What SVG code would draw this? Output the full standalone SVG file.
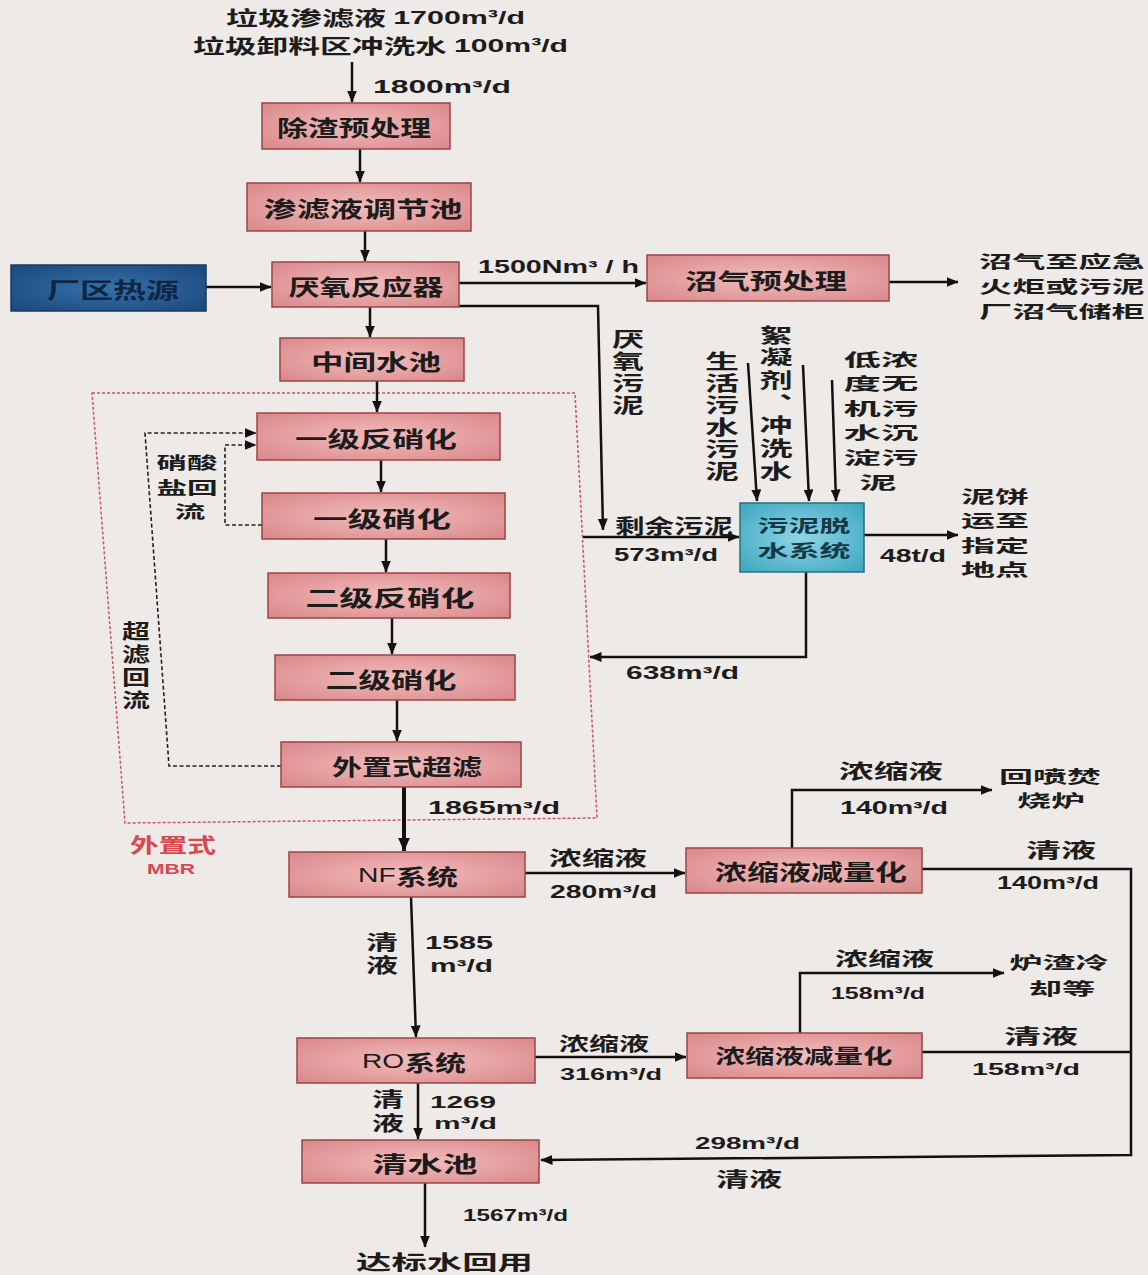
<svg xmlns="http://www.w3.org/2000/svg" width="1148" height="1275" viewBox="0 0 1148 1275">
<style>
.box{fill:url(#pink);stroke:#9a4646;stroke-width:1.5}
.t{font-family:"Noto Sans CJK SC","Noto Sans",sans-serif;font-weight:700;font-size:22px;fill:#1c1c1c;dominant-baseline:central}
.v{font-size:19px}
.l{font-size:20px}
.k{font-size:17px}
.m{text-anchor:middle}
.vt{writing-mode:vertical-rl;text-anchor:start}
.n{font-family:"Liberation Sans",Arial,sans-serif;font-weight:700;font-size:18px;fill:#1c1c1c;dominant-baseline:central}
.s{font-size:17px}
.c{fill:none;stroke:#111;stroke-width:2.5}
.d{fill:none;stroke:#222;stroke-width:1.6;stroke-dasharray:4 2.5}
.red{fill:#d9474f}
tspan{dominant-baseline:central}
</style>
<defs>
<radialGradient id="pink" cx="0.5" cy="0.5" r="0.7">
<stop offset="0" stop-color="#f3bcbc"/><stop offset="1" stop-color="#d9878a"/>
</radialGradient>
<radialGradient id="blue" cx="0.5" cy="0.5" r="0.7">
<stop offset="0" stop-color="#3571ab"/><stop offset="1" stop-color="#1b477a"/>
</radialGradient>
<radialGradient id="teal" cx="0.5" cy="0.5" r="0.7">
<stop offset="0" stop-color="#8fd6e6"/><stop offset="1" stop-color="#3ca6bf"/>
</radialGradient>
<marker id="ah" viewBox="0 0 12 10" refX="11.5" refY="5" markerWidth="12" markerHeight="10" markerUnits="userSpaceOnUse" orient="auto"><path d="M0,0L12,5L0,10z" fill="#111"/></marker>
<marker id="ahb" viewBox="0 0 14 12" refX="13.5" refY="6" markerWidth="14" markerHeight="12" markerUnits="userSpaceOnUse" orient="auto"><path d="M0,0L14,6L0,12z" fill="#111"/></marker>
</defs>
<rect width="1148" height="1275" fill="#eeeae7"/>

<g id="mbr-frame">
<polygon points="92,393 575,393 597,818 125,823" fill="none" stroke="#cc5560" stroke-width="1.5" stroke-dasharray="3 2"/>
<text class="t l red" x="130" y="844" textLength="86" lengthAdjust="spacingAndGlyphs">外置式</text>
<text class="n red" x="147" y="869" style="font-size:14px" textLength="48" lengthAdjust="spacingAndGlyphs">MBR</text>
</g>

<g id="connectors">
<path class="c" d="M352,62V102" marker-end="url(#ah)"/>
<path class="c" d="M360,149V182" marker-end="url(#ah)"/>
<path class="c" d="M365,231V261" marker-end="url(#ah)"/>
<path class="c" d="M206,287H271" marker-end="url(#ah)"/>
<path class="c" d="M459,283H646" marker-end="url(#ah)"/>
<path class="c" d="M889,282H958" marker-end="url(#ah)"/>
<path class="c" d="M370,307V337" marker-end="url(#ah)"/>
<path class="c" d="M377,381V412" marker-end="url(#ah)"/>
<path class="c" d="M381,460V492" marker-end="url(#ah)"/>
<path class="c" d="M386,539V572" marker-end="url(#ah)"/>
<path class="c" d="M392,618V654" marker-end="url(#ah)"/>
<path class="c" d="M397,700V741" marker-end="url(#ah)"/>
<path class="c" d="M404,787V851" style="stroke-width:4" marker-end="url(#ahb)"/>
<path class="c" d="M459,306H598L603,530" marker-end="url(#ah)"/>
<path class="c" d="M583,537H739" marker-end="url(#ah)"/>
<path class="c" d="M748,363L757,501" marker-end="url(#ah)"/>
<path class="c" d="M803,365L809,501" marker-end="url(#ah)"/>
<path class="c" d="M832,380L836,501" marker-end="url(#ah)"/>
<path class="c" d="M864,535H958" marker-end="url(#ah)"/>
<path class="c" d="M806,572V657H590" marker-end="url(#ah)"/>
<path class="c" d="M525,873H685" marker-end="url(#ah)"/>
<path class="c" d="M792,848V790H992" marker-end="url(#ah)"/>
<path class="c" d="M922,869H1131V1155L541,1160" marker-end="url(#ah)"/>
<path class="c" d="M411,897L416,1037" marker-end="url(#ah)"/>
<path class="c" d="M535,1057H686" marker-end="url(#ah)"/>
<path class="c" d="M800,1033V973H1004" marker-end="url(#ah)"/>
<path class="c" d="M922,1052H1131"/>
<path class="c" d="M418,1083V1139" marker-end="url(#ah)"/>
<path class="c" d="M425,1183V1247" marker-end="url(#ah)"/>
<path class="d" d="M262,525H225V445H256" marker-end="url(#ah)"/>
<path class="d" d="M281,766H169L145,433H256" marker-end="url(#ah)"/>
</g>

<g id="labels">
<text class="t l" x="226" y="17" textLength="299" lengthAdjust="spacingAndGlyphs">垃圾渗滤液 <tspan class="n" style="font-size:19px">1700m³/d</tspan></text>
<text class="t l" x="193" y="45" textLength="375" lengthAdjust="spacingAndGlyphs">垃圾卸料区冲洗水 <tspan class="n" style="font-size:19px">100m³/d</tspan></text>
<text class="n" x="373" y="87" textLength="138" lengthAdjust="spacingAndGlyphs">1800m³/d</text>
<text class="n" x="478" y="267" textLength="161" lengthAdjust="spacingAndGlyphs">1500Nm³ / h</text>
<text class="t k" transform="translate(979,0) scale(1.95,1)"><tspan x="0" y="260">沼气至应急</tspan><tspan x="0" y="285">火炬或污泥</tspan><tspan x="0" y="310">厂沼气储柜</tspan></text>
<text class="t l vt" transform="translate(628,0) scale(1.6,1)" x="0" y="329" style="letter-spacing:2.3px">厌氧污泥</text>
<text class="t l vt" transform="translate(722,0) scale(1.7,1)" x="0" y="351" style="letter-spacing:2px">生活污水污泥</text>
<text class="t l vt" transform="translate(776,0) scale(1.65,1)" x="0" y="325" style="letter-spacing:2.67px">絮凝剂、冲洗水</text>
<text class="t l vt" transform="translate(136,0) scale(1.4,1)" x="0" y="621" style="letter-spacing:3.3px">超滤回流</text>
<text class="t l vt" transform="translate(382,0) scale(1.6,1)" x="0" y="932" style="letter-spacing:3px">清液</text>
<text class="t l vt" transform="translate(388,0) scale(1.6,1)" x="0" y="1089" style="letter-spacing:4px">清液</text>
<text class="t k m" transform="translate(881,0) scale(2.2,1)"><tspan x="0" y="358">低浓</tspan><tspan x="0" y="382.6">度无</tspan><tspan x="0" y="407.2">机污</tspan><tspan x="0" y="431.8">水沉</tspan><tspan x="0" y="456.4">淀污</tspan><tspan x="-1.4" y="481">泥</tspan></text>
<text class="t k m" transform="translate(995,0) scale(2,1)"><tspan x="0" y="495">泥饼</tspan><tspan x="0" y="519.6">运至</tspan><tspan x="0" y="544.2">指定</tspan><tspan x="0" y="568.8">地点</tspan></text>
<text class="t k m" transform="translate(187,0) scale(1.8,1)"><tspan x="0" y="461.5">硝酸</tspan><tspan x="0" y="486.1">盐回</tspan><tspan x="1.7" y="510.7">流</tspan></text>
<text class="t k m" transform="translate(1050,0) scale(2,1)"><tspan x="0" y="775">回喷焚</tspan><tspan x="0.5" y="799.6">烧炉</tspan></text>
<text class="t k m" transform="translate(1059,0) scale(1.95,1)"><tspan x="0" y="961">炉渣冷</tspan><tspan x="1.5" y="987">却等</tspan></text>
<text class="t l" x="615" y="525" textLength="118" lengthAdjust="spacingAndGlyphs">剩余污泥</text>
<text class="n" x="614" y="555" textLength="104" lengthAdjust="spacingAndGlyphs">573m³/d</text>
<text class="n" x="880" y="556" textLength="66" lengthAdjust="spacingAndGlyphs">48t/d</text>
<text class="n" x="626" y="673" textLength="113" lengthAdjust="spacingAndGlyphs">638m³/d</text>
<text class="n" x="428" y="808" textLength="132" lengthAdjust="spacingAndGlyphs">1865m³/d</text>
<text class="t l" x="549" y="857" textLength="98" lengthAdjust="spacingAndGlyphs">浓缩液</text>
<text class="n" x="550" y="892" textLength="107" lengthAdjust="spacingAndGlyphs">280m³/d</text>
<text class="t l" x="839" y="770" textLength="104" lengthAdjust="spacingAndGlyphs">浓缩液</text>
<text class="n" x="840" y="808" textLength="108" lengthAdjust="spacingAndGlyphs">140m³/d</text>
<text class="t l" x="1026" y="849" textLength="70" lengthAdjust="spacingAndGlyphs">清液</text>
<text class="n" x="997" y="883" textLength="102" lengthAdjust="spacingAndGlyphs">140m³/d</text>
<text class="n" x="425" y="943" textLength="68" lengthAdjust="spacingAndGlyphs">1585</text>
<text class="n" x="430" y="966" textLength="63" lengthAdjust="spacingAndGlyphs">m³/d</text>
<text class="t v" x="559" y="1042" textLength="90" lengthAdjust="spacingAndGlyphs">浓缩液</text>
<text class="n s" x="560" y="1074" textLength="102" lengthAdjust="spacingAndGlyphs">316m³/d</text>
<text class="t v" x="835" y="957" textLength="99" lengthAdjust="spacingAndGlyphs">浓缩液</text>
<text class="n s" x="831" y="993" textLength="94" lengthAdjust="spacingAndGlyphs">158m³/d</text>
<text class="t l" x="1004" y="1035" textLength="74" lengthAdjust="spacingAndGlyphs">清液</text>
<text class="n s" x="972" y="1069" textLength="108" lengthAdjust="spacingAndGlyphs">158m³/d</text>
<text class="n s" x="430" y="1102" textLength="66" lengthAdjust="spacingAndGlyphs">1269</text>
<text class="n s" x="434" y="1123" textLength="63" lengthAdjust="spacingAndGlyphs">m³/d</text>
<text class="n s" x="695" y="1143" textLength="105" lengthAdjust="spacingAndGlyphs">298m³/d</text>
<text class="t l" x="716" y="1178" textLength="66" lengthAdjust="spacingAndGlyphs">清液</text>
<text class="n s" x="463" y="1215" textLength="105" lengthAdjust="spacingAndGlyphs">1567m³/d</text>
<text class="t l" x="356" y="1261" textLength="177" lengthAdjust="spacingAndGlyphs">达标水回用</text>
</g>

<g id="n-slag"><rect class="box" x="262" y="103" width="188" height="46"/><text class="t m" x="354" y="126" textLength="154" lengthAdjust="spacingAndGlyphs">除渣预处理</text></g>
<g id="n-tank"><rect class="box" x="247" y="183" width="224" height="48"/><text class="t m" x="363" y="207" textLength="199" lengthAdjust="spacingAndGlyphs">渗滤液调节池</text></g>
<g id="n-anaerobic"><rect class="box" x="272" y="262" width="187" height="45"/><text class="t m" x="366" y="285" textLength="155" lengthAdjust="spacingAndGlyphs">厌氧反应器</text></g>
<g id="n-heat"><rect x="11" y="265" width="195" height="46" fill="url(#blue)" stroke="#163a63" stroke-width="1.5"/><text class="t m" x="113" y="288" textLength="132" lengthAdjust="spacingAndGlyphs" style="fill:#0f2744">厂区热源</text></g>
<g id="n-biogas"><rect class="box" x="647" y="255" width="242" height="46"/><text class="t m" x="766" y="279" textLength="162" lengthAdjust="spacingAndGlyphs">沼气预处理</text></g>
<g id="n-mid"><rect class="box" x="280" y="338" width="184" height="43"/><text class="t m" x="376" y="360" textLength="130" lengthAdjust="spacingAndGlyphs">中间水池</text></g>
<g id="n-dn1"><rect class="box" x="257" y="413" width="243" height="47"/><text class="t m" x="376" y="437" textLength="162" lengthAdjust="spacingAndGlyphs">一级反硝化</text></g>
<g id="n-n1"><rect class="box" x="262" y="493" width="243" height="46"/><text class="t m" x="382" y="517" textLength="138" lengthAdjust="spacingAndGlyphs">一级硝化</text></g>
<g id="n-dn2"><rect class="box" x="268" y="573" width="242" height="45"/><text class="t m" x="390" y="596" textLength="169" lengthAdjust="spacingAndGlyphs">二级反硝化</text></g>
<g id="n-n2"><rect class="box" x="275" y="655" width="240" height="45"/><text class="t m" x="391" y="678" textLength="131" lengthAdjust="spacingAndGlyphs">二级硝化</text></g>
<g id="n-uf"><rect class="box" x="281" y="742" width="240" height="45"/><text class="t m" x="407" y="765" textLength="150" lengthAdjust="spacingAndGlyphs">外置式超滤</text></g>
<g id="n-sludge"><rect x="740" y="503" width="124" height="69" fill="url(#teal)" stroke="#2a6f80" stroke-width="1.5"/><text class="t k m" transform="translate(804,0) scale(1.82,1)" style="fill:#173845"><tspan x="0" y="525">污泥脱</tspan><tspan x="0" y="549.6">水系统</tspan></text></g>
<g id="n-nf"><rect class="box" x="289" y="852" width="236" height="45"/><text class="t m" x="408" y="875" textLength="100" lengthAdjust="spacingAndGlyphs"><tspan class="n" style="font-size:20px;font-weight:400">NF</tspan>系统</text></g>
<g id="n-reduce1"><rect class="box" x="686" y="848" width="236" height="45"/><text class="t m" x="811" y="870" textLength="192" lengthAdjust="spacingAndGlyphs">浓缩液减量化</text></g>
<g id="n-ro"><rect class="box" x="297" y="1038" width="238" height="45"/><text class="t m" x="414" y="1061" textLength="104" lengthAdjust="spacingAndGlyphs"><tspan class="n" style="font-size:20px;font-weight:400">RO</tspan>系统</text></g>
<g id="n-reduce2"><rect class="box" x="687" y="1033" width="235" height="45"/><text class="t l m" x="804" y="1055" textLength="177" lengthAdjust="spacingAndGlyphs">浓缩液减量化</text></g>
<g id="n-clear"><rect class="box" x="302" y="1140" width="237" height="43"/><text class="t m" x="425" y="1162" textLength="105" lengthAdjust="spacingAndGlyphs">清水池</text></g>
</svg>
